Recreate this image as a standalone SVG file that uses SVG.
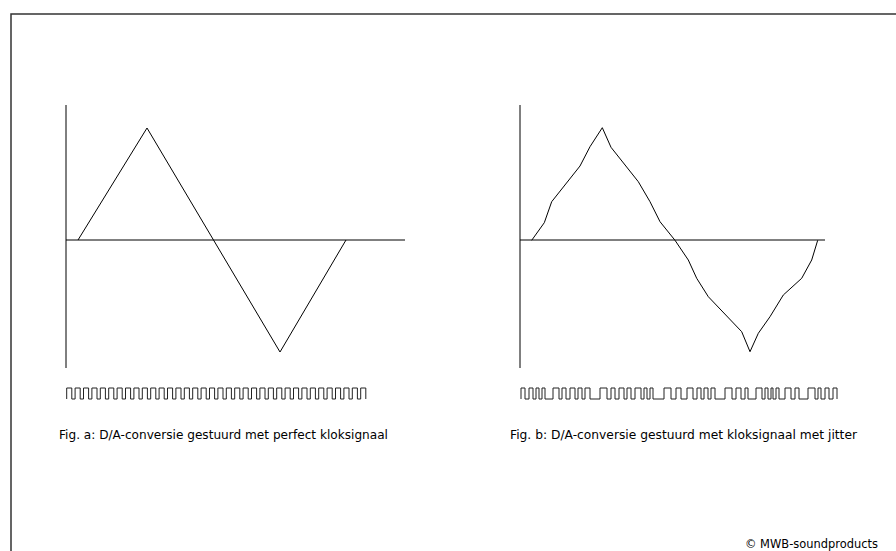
<svg xmlns="http://www.w3.org/2000/svg" width="896" height="551" viewBox="0 0 896 551">
<style>
.ln{fill:none;stroke:#000;stroke-width:1}
.clk{fill:none;stroke:#222;stroke-width:1}
.lbl{font-family:"DejaVu Sans",Verdana,sans-serif;font-size:11.5px;fill:#000}
</style>
<rect width="896" height="551" fill="#fff"/>
<g id="frame"><path d="M11,551 V14 H896" fill="none" stroke="#333" stroke-width="1.5"/></g>
<g id="fig-a">
<path class="ln" d="M66,105 V368 M66,240 H405"/>
<path class="ln" d="M78,240 L147,128 L280,352 L346,240"/>
<path class="clk" d="M66.7,399
v-11 h5.1 v11 h3.3 v-11 h5.1 v11 h3.3 v-11 h5.1 v11 h3.3 v-11 h5.1 v11 h3.3 v-11 h5.1 v11 h3.3 v-11 h5.1 v11 h3.3
v-11 h5.1 v11 h3.3 v-11 h5.1 v11 h3.3 v-11 h5.1 v11 h3.3 v-11 h5.1 v11 h3.3 v-11 h5.1 v11 h3.3 v-11 h5.1 v11 h3.3
v-11 h5.1 v11 h3.3 v-11 h5.1 v11 h3.3 v-11 h5.1 v11 h3.3 v-11 h5.1 v11 h3.3 v-11 h5.1 v11 h3.3 v-11 h5.1 v11 h3.3
v-11 h5.1 v11 h3.3 v-11 h5.1 v11 h3.3 v-11 h5.1 v11 h3.3 v-11 h5.1 v11 h3.3 v-11 h5.1 v11 h3.3 v-11 h5.1 v11 h3.3
v-11 h5.1 v11 h3.3 v-11 h5.1 v11 h3.3 v-11 h5.1 v11 h3.3 v-11 h5.1 v11 h3.3 v-11 h5.1 v11 h3.3 v-11 h5.1 v11 h3.3
v-11 h5.1 v11 h3.3 v-11 h5.1 v11 h3.3 v-11 h5.1 v11 h3.3 v-11 h5.1 v11 h3.3 v-11 h5.1 v11 h3.3 v-11 h5.1 v11"/>
<text class="lbl" x="59" y="439" textLength="329" lengthAdjust="spacingAndGlyphs">Fig. a: D/A-conversie gestuurd met perfect kloksignaal</text>
</g>
<g id="fig-b">
<path class="ln" d="M520,105 V368 M520,240 H825"/>
<path class="ln" d="M531.7,240.3 L544.3,222.7 L551.7,201.7 L580,166 L590,146.7 L602.3,127.7 L611,147.3 L638.3,181.7 L650,201.7 L660,221.7 L675,240.3 L688.3,260 L696.7,278.3 L708.3,296.7 L741.7,331.7 L750,351.7 L758.3,333.3 L770,316.7 L783.3,295 L801.7,278.3 L811.7,260 L817.7,240.3"/>
<path class="clk" d="M521,399 v-11 h4 v11 h4 v-11 h4 v11 h3 v-11 h3 v11 h3 v-11 h3 v11 h8 v-11 h6 v11 h3 v-11 h4 v11 h4 v-11 h5 v11 h3 v-11 h4 v11 h3 v-11 h5 v11 h10 v-11 h7 v11 h4 v-11 h4 v11 h4 v-11 h5 v11 h3 v-11 h4 v11 h4 v-11 h6 v11 h3 v-11 h3 v11 h3 v-11 h3 v11 h11 v-11 h7 v11 h5 v-11 h5 v11 h6 v-11 h6 v11 h4 v-11 h4 v11 h3 v-11 h4 v11 h3 v-11 h4 v11 h10 v-11 h7 v11 h4 v-11 h5 v11 h4 v-11 h3 v11 h8 v-11 h6 v11 h3 v-11 h3 v11 h3 v-11 h2 v11 h3 v-11 h3 v11 h6 v-11 h6 v11 h4 v-11 h4 v11 h9 v-11 h7 v11 h3 v-11 h3 v11 h4 v-11 h4 v11 h4 v-11 h4 v11"/>
<text class="lbl" x="510" y="439" textLength="347" lengthAdjust="spacingAndGlyphs">Fig. b: D/A-conversie gestuurd met kloksignaal met jitter</text>
</g>
<g id="copyright"><text class="lbl" x="745" y="548" textLength="133" lengthAdjust="spacingAndGlyphs">© MWB-soundproducts</text></g>
</svg>
